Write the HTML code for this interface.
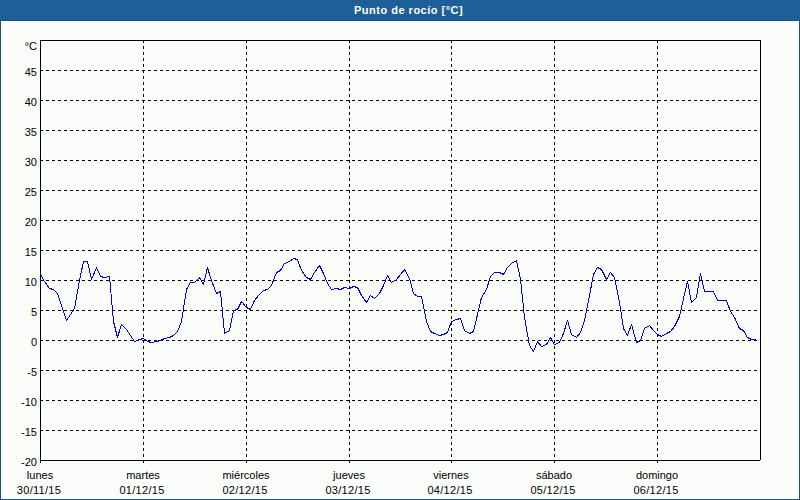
<!DOCTYPE html>
<html><head><meta charset="utf-8"><style>
html,body{margin:0;padding:0;}
body{width:800px;height:500px;position:relative;overflow:hidden;background:#fbfdfb;font-family:"Liberation Sans",sans-serif;font-size:11px;color:#000;}
#hdr{position:absolute;left:0;top:0;width:800px;height:21px;background:#1d5e94;}
#ttl{position:absolute;left:354px;top:4px;color:#fff;font-weight:bold;font-size:11px;line-height:13px;white-space:nowrap;letter-spacing:0.5px;}
#frame{position:absolute;left:0;top:20px;width:798px;height:478px;border:1px solid #0e548f;border-top-width:1px;}
#inner{position:absolute;left:1px;top:21px;width:796px;height:476px;border:1px solid #fff;}
svg{position:absolute;left:0;top:0;}
.g{stroke:#000;stroke-width:1;stroke-dasharray:3 3;shape-rendering:crispEdges;}
.yl{position:absolute;left:0;width:37px;text-align:right;line-height:13px;white-space:nowrap;}
.xl{position:absolute;width:100px;text-align:center;line-height:13px;white-space:nowrap;}
#unit{position:absolute;left:0;top:40px;width:37px;text-align:right;line-height:13px;}
</style></head><body>
<div id="hdr"><svg id="dith" width="800" height="20"><defs><pattern id="dp" width="4" height="20" patternUnits="userSpaceOnUse"><g fill="#2261a9"><rect x="2" y="1" width="1" height="1"/><rect x="1" y="3" width="1" height="1"/><rect x="0" y="5" width="1" height="1"/><rect x="2" y="7" width="1" height="1"/><rect x="1" y="9" width="1" height="1"/><rect x="0" y="11" width="1" height="1"/><rect x="2" y="13" width="1" height="1"/><rect x="1" y="15" width="1" height="1"/><rect x="0" y="17" width="1" height="1"/><rect x="2" y="19" width="1" height="1"/></g></pattern></defs><rect width="800" height="20" fill="url(#dp)"/></svg><div id="ttl">Punto de roc&iacute;o [&deg;C]</div></div>
<div id="frame"></div><div id="inner"></div>
<svg width="800" height="500" viewBox="0 0 800 500">
<line x1="40" y1="70.5" x2="760" y2="70.5" class="g"/>
<line x1="40" y1="100.5" x2="760" y2="100.5" class="g"/>
<line x1="40" y1="130.5" x2="760" y2="130.5" class="g"/>
<line x1="40" y1="160.5" x2="760" y2="160.5" class="g"/>
<line x1="40" y1="190.5" x2="760" y2="190.5" class="g"/>
<line x1="40" y1="220.5" x2="760" y2="220.5" class="g"/>
<line x1="40" y1="250.5" x2="760" y2="250.5" class="g"/>
<line x1="40" y1="280.5" x2="760" y2="280.5" class="g"/>
<line x1="40" y1="310.5" x2="760" y2="310.5" class="g"/>
<line x1="40" y1="340.5" x2="760" y2="340.5" class="g"/>
<line x1="40" y1="370.5" x2="760" y2="370.5" class="g"/>
<line x1="40" y1="400.5" x2="760" y2="400.5" class="g"/>
<line x1="40" y1="430.5" x2="760" y2="430.5" class="g"/>
<line x1="143.5" y1="40" x2="143.5" y2="460" class="g"/>
<line x1="246.5" y1="40" x2="246.5" y2="460" class="g"/>
<line x1="349.5" y1="40" x2="349.5" y2="460" class="g"/>
<line x1="451.5" y1="40" x2="451.5" y2="460" class="g"/>
<line x1="554.5" y1="40" x2="554.5" y2="460" class="g"/>
<line x1="657.5" y1="40" x2="657.5" y2="460" class="g"/>
<polyline points="40.5,274.5 44.5,281.5 49.5,288.5 53.5,289.5 57.5,293.5 61.5,305.5 66.5,320.5 70.5,314.5 74.5,308.5 79.5,280.5 83.5,261.5 87.5,261.5 91.5,279.5 96.5,267.5 100.5,276.5 104.5,277.5 109.5,276.5 113.5,321.5 117.5,337.5 121.5,324.5 126.5,329.5 130.5,335.5 134.5,341.5 139.5,339.5 143.5,338.5 147.5,341.5 151.5,342.5 156.5,341.5 160.5,340.5 164.5,338.5 169.5,337.5 173.5,335.5 177.5,331.5 181.5,321.5 186.5,289.5 190.5,282.5 194.5,282.5 199.5,277.5 203.5,284.5 207.5,267.5 211.5,280.5 216.5,293.5 220.5,291.5 224.5,333.5 229.5,330.5 233.5,310.5 237.5,309.5 241.5,301.5 246.5,307.5 250.5,309.5 254.5,300.5 259.5,294.5 263.5,290.5 267.5,289.5 271.5,285.5 276.5,272.5 280.5,270.5 284.5,263.5 289.5,261.5 293.5,258.5 297.5,259.5 301.5,270.5 306.5,277.5 310.5,279.5 314.5,272.5 319.5,265.5 323.5,273.5 327.5,283.5 331.5,289.5 336.5,288.5 340.5,289.5 344.5,287.5 349.5,288.5 353.5,286.5 357.5,287.5 361.5,295.5 366.5,302.5 370.5,295.5 374.5,298.5 379.5,293.5 383.5,285.5 387.5,275.5 391.5,282.5 396.5,279.5 400.5,274.5 404.5,269.5 409.5,278.5 413.5,293.5 417.5,296.5 421.5,296.5 426.5,321.5 430.5,331.5 434.5,333.5 439.5,335.5 443.5,334.5 447.5,332.5 451.5,321.5 456.5,319.5 460.5,318.5 464.5,330.5 469.5,333.5 473.5,331.5 477.5,314.5 481.5,297.5 486.5,289.5 490.5,276.5 494.5,272.5 499.5,272.5 503.5,274.5 507.5,267.5 511.5,263.5 516.5,260.5 520.5,279.5 524.5,317.5 529.5,345.5 533.5,351.5 537.5,341.5 541.5,346.5 546.5,344.5 550.5,337.5 554.5,344.5 559.5,342.5 563.5,333.5 567.5,320.5 571.5,334.5 576.5,337.5 580.5,332.5 584.5,320.5 589.5,295.5 593.5,274.5 597.5,267.5 601.5,269.5 606.5,279.5 610.5,272.5 614.5,277.5 619.5,302.5 623.5,328.5 627.5,335.5 631.5,324.5 636.5,342.5 640.5,340.5 644.5,328.5 649.5,325.5 653.5,330.5 657.5,334.5 661.5,336.5 666.5,333.5 670.5,331.5 674.5,326.5 679.5,316.5 683.5,298.5 687.5,281.5 691.5,302.5 696.5,297.5 700.5,273.5 704.5,291.5 709.5,291.5 713.5,291.5 717.5,300.5 721.5,300.5 726.5,300.5 730.5,311.5 734.5,317.5 739.5,328.5 743.5,330.5 747.5,337.5 751.5,339.5 756,339.5" fill="none" stroke="#0000e0" stroke-width="1" stroke-linejoin="round" shape-rendering="crispEdges"/>
<path fill="#0000e0" d="M40 274h1v1h-1zM44 281h1v1h-1zM49 288h1v1h-1zM53 289h1v1h-1zM57 293h1v1h-1zM61 305h1v1h-1zM66 320h1v1h-1zM70 314h1v1h-1zM74 308h1v1h-1zM79 280h1v1h-1zM83 261h1v1h-1zM87 261h1v1h-1zM91 279h1v1h-1zM96 267h1v1h-1zM100 276h1v1h-1zM104 277h1v1h-1zM109 276h1v1h-1zM113 321h1v1h-1zM117 337h1v1h-1zM121 324h1v1h-1zM126 329h1v1h-1zM130 335h1v1h-1zM134 341h1v1h-1zM139 339h1v1h-1zM143 338h1v1h-1zM147 341h1v1h-1zM151 342h1v1h-1zM156 341h1v1h-1zM160 340h1v1h-1zM164 338h1v1h-1zM169 337h1v1h-1zM173 335h1v1h-1zM177 331h1v1h-1zM181 321h1v1h-1zM186 289h1v1h-1zM190 282h1v1h-1zM194 282h1v1h-1zM199 277h1v1h-1zM203 284h1v1h-1zM207 267h1v1h-1zM211 280h1v1h-1zM216 293h1v1h-1zM220 291h1v1h-1zM224 333h1v1h-1zM229 330h1v1h-1zM233 310h1v1h-1zM237 309h1v1h-1zM241 301h1v1h-1zM246 307h1v1h-1zM250 309h1v1h-1zM254 300h1v1h-1zM259 294h1v1h-1zM263 290h1v1h-1zM267 289h1v1h-1zM271 285h1v1h-1zM276 272h1v1h-1zM280 270h1v1h-1zM284 263h1v1h-1zM289 261h1v1h-1zM293 258h1v1h-1zM297 259h1v1h-1zM301 270h1v1h-1zM306 277h1v1h-1zM310 279h1v1h-1zM314 272h1v1h-1zM319 265h1v1h-1zM323 273h1v1h-1zM327 283h1v1h-1zM331 289h1v1h-1zM336 288h1v1h-1zM340 289h1v1h-1zM344 287h1v1h-1zM349 288h1v1h-1zM353 286h1v1h-1zM357 287h1v1h-1zM361 295h1v1h-1zM366 302h1v1h-1zM370 295h1v1h-1zM374 298h1v1h-1zM379 293h1v1h-1zM383 285h1v1h-1zM387 275h1v1h-1zM391 282h1v1h-1zM396 279h1v1h-1zM400 274h1v1h-1zM404 269h1v1h-1zM409 278h1v1h-1zM413 293h1v1h-1zM417 296h1v1h-1zM421 296h1v1h-1zM426 321h1v1h-1zM430 331h1v1h-1zM434 333h1v1h-1zM439 335h1v1h-1zM443 334h1v1h-1zM447 332h1v1h-1zM451 321h1v1h-1zM456 319h1v1h-1zM460 318h1v1h-1zM464 330h1v1h-1zM469 333h1v1h-1zM473 331h1v1h-1zM477 314h1v1h-1zM481 297h1v1h-1zM486 289h1v1h-1zM490 276h1v1h-1zM494 272h1v1h-1zM499 272h1v1h-1zM503 274h1v1h-1zM507 267h1v1h-1zM511 263h1v1h-1zM516 260h1v1h-1zM520 279h1v1h-1zM524 317h1v1h-1zM529 345h1v1h-1zM533 351h1v1h-1zM537 341h1v1h-1zM541 346h1v1h-1zM546 344h1v1h-1zM550 337h1v1h-1zM554 344h1v1h-1zM559 342h1v1h-1zM563 333h1v1h-1zM567 320h1v1h-1zM571 334h1v1h-1zM576 337h1v1h-1zM580 332h1v1h-1zM584 320h1v1h-1zM589 295h1v1h-1zM593 274h1v1h-1zM597 267h1v1h-1zM601 269h1v1h-1zM606 279h1v1h-1zM610 272h1v1h-1zM614 277h1v1h-1zM619 302h1v1h-1zM623 328h1v1h-1zM627 335h1v1h-1zM631 324h1v1h-1zM636 342h1v1h-1zM640 340h1v1h-1zM644 328h1v1h-1zM649 325h1v1h-1zM653 330h1v1h-1zM657 334h1v1h-1zM661 336h1v1h-1zM666 333h1v1h-1zM670 331h1v1h-1zM674 326h1v1h-1zM679 316h1v1h-1zM683 298h1v1h-1zM687 281h1v1h-1zM691 302h1v1h-1zM696 297h1v1h-1zM700 273h1v1h-1zM704 291h1v1h-1zM709 291h1v1h-1zM713 291h1v1h-1zM717 300h1v1h-1zM721 300h1v1h-1zM726 300h1v1h-1zM730 311h1v1h-1zM734 317h1v1h-1zM739 328h1v1h-1zM743 330h1v1h-1zM747 337h1v1h-1zM751 339h1v1h-1z"/>
<rect x="40" y="40" width="721" height="1" fill="#000"/>
<rect x="40" y="40" width="1" height="423" fill="#000"/>
<rect x="760" y="40" width="1" height="420" fill="#000"/>
<rect x="40" y="460" width="720" height="1" fill="#000"/>
<rect x="143" y="461" width="1" height="2" fill="#000"/>
<rect x="246" y="461" width="1" height="2" fill="#000"/>
<rect x="349" y="461" width="1" height="2" fill="#000"/>
<rect x="451" y="461" width="1" height="2" fill="#000"/>
<rect x="554" y="461" width="1" height="2" fill="#000"/>
<rect x="657" y="461" width="1" height="2" fill="#000"/>
</svg>
<div id="unit">&deg;C</div>
<div class="yl" style="top:66px">45</div>
<div class="yl" style="top:96px">40</div>
<div class="yl" style="top:126px">35</div>
<div class="yl" style="top:156px">30</div>
<div class="yl" style="top:186px">25</div>
<div class="yl" style="top:216px">20</div>
<div class="yl" style="top:246px">15</div>
<div class="yl" style="top:276px">10</div>
<div class="yl" style="top:306px">5</div>
<div class="yl" style="top:336px">0</div>
<div class="yl" style="top:366px">-5</div>
<div class="yl" style="top:396px">-10</div>
<div class="yl" style="top:426px">-15</div>
<div class="yl" style="top:456px">-20</div>
<div class="xl" style="left:-10px;top:469px">lunes</div>
<div class="xl" style="left:-11px;top:484px;letter-spacing:0.3px">30/11/15</div>
<div class="xl" style="left:93px;top:469px">martes</div>
<div class="xl" style="left:92px;top:484px;letter-spacing:0.3px">01/12/15</div>
<div class="xl" style="left:196px;top:469px">mi&eacute;rcoles</div>
<div class="xl" style="left:195px;top:484px;letter-spacing:0.3px">02/12/15</div>
<div class="xl" style="left:299px;top:469px">jueves</div>
<div class="xl" style="left:298px;top:484px;letter-spacing:0.3px">03/12/15</div>
<div class="xl" style="left:401px;top:469px">viernes</div>
<div class="xl" style="left:400px;top:484px;letter-spacing:0.3px">04/12/15</div>
<div class="xl" style="left:504px;top:469px">s&aacute;bado</div>
<div class="xl" style="left:503px;top:484px;letter-spacing:0.3px">05/12/15</div>
<div class="xl" style="left:607px;top:469px">domingo</div>
<div class="xl" style="left:606px;top:484px;letter-spacing:0.3px">06/12/15</div>
</body></html>
